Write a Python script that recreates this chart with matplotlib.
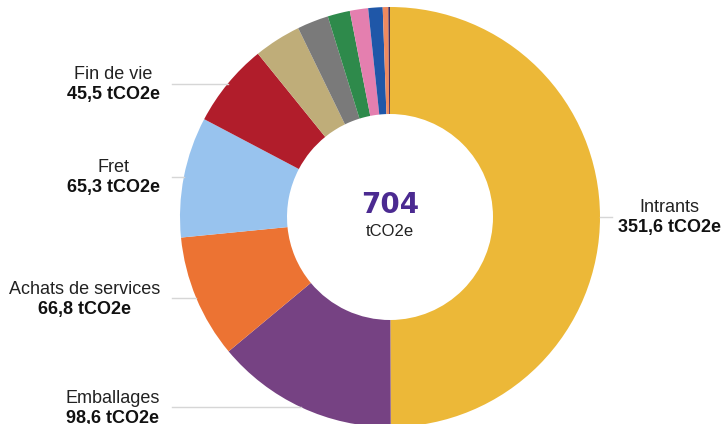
import matplotlib
matplotlib.use("Agg")
import matplotlib.pyplot as plt
import numpy as np

# Emissions by post (tCO2e), clockwise from 12 o'clock
categories = ["Intrants", "Emballages", "Achats de services", "Fret", "Fin de vie",
              "Autre 1", "Autre 2", "Autre 3", "Autre 4", "Autre 5", "Autre 6", "Autre 7"]
values = [351.6, 98.6, 66.8, 65.3, 45.5, 25.5, 17.0, 12.1, 9.9, 7.8, 3.0, 0.9]
colors = ["#ECB838", "#764283", "#EC7333", "#98C3EE", "#B11D2B",
          "#BFAD79", "#7A7A7A", "#2E8A4B", "#E47FAF", "#1F57A8", "#EF8A60", "#4A2C52"]
labelled = ["Intrants", "Emballages", "Achats de services", "Fret", "Fin de vie"]
total = 704

def fmt(v):
    return f"{v:.1f}".replace(".", ",") + " tCO2e"

W, H = 722, 424
fig = plt.figure(figsize=(W / 100, H / 100), dpi=100)
ax = fig.add_axes([0, 0, 1, 1])
ax.set_xlim(0, W)
ax.set_ylim(0, H)
ax.set_aspect("equal")
ax.axis("off")

cx, cy = 390, 207
r_out, r_in = 210, 103

wedges, _ = ax.pie(values, colors=colors, startangle=90, counterclock=False,
                   center=(cx, cy), radius=r_out, frame=True,
                   wedgeprops=dict(width=r_out - r_in, linewidth=0))
ax.set_xlim(0, W)
ax.set_ylim(0, H)
ax.axis("off")

# centre total
ax.text(cx, cy + 12, str(total), ha="center", va="center", fontsize=20,
        fontweight="bold", color="#4B2A91", family="DejaVu Sans")
ax.text(cx, cy - 15, "tCO2e", ha="center", va="center", fontsize=12,
        color="#222222", family="Liberation Sans")

fig.canvas.draw()
renderer = fig.canvas.get_renderer()

line_col = "#d6d6d6"
for w, name, val in zip(wedges, categories, values):
    if name not in labelled:
        continue
    mid = np.deg2rad((w.theta1 + w.theta2) / 2)
    px = cx + r_out * np.cos(mid)
    py = cy + r_out * np.sin(mid)
    right = px > cx

    t1 = ax.text(0, py + 9, name, ha="center", va="center", fontsize=13,
                 color="#222222", family="Liberation Sans")
    t2 = ax.text(0, py - 11, fmt(val), ha="center", va="center", fontsize=13,
                 fontweight="bold", color="#111111", family="Liberation Sans")
    width = max(t.get_window_extent(renderer).width for t in (t1, t2))
    if right:
        ax.plot([px, px + 12], [py, py], color=line_col, lw=1)
        xc = 618 + width / 2
    else:
        ax.plot([172, px], [py, py], color=line_col, lw=1)
        xc = 160 - width / 2
    t1.set_x(xc)
    t2.set_x(xc)

fig.savefig("out.png", dpi=100)
